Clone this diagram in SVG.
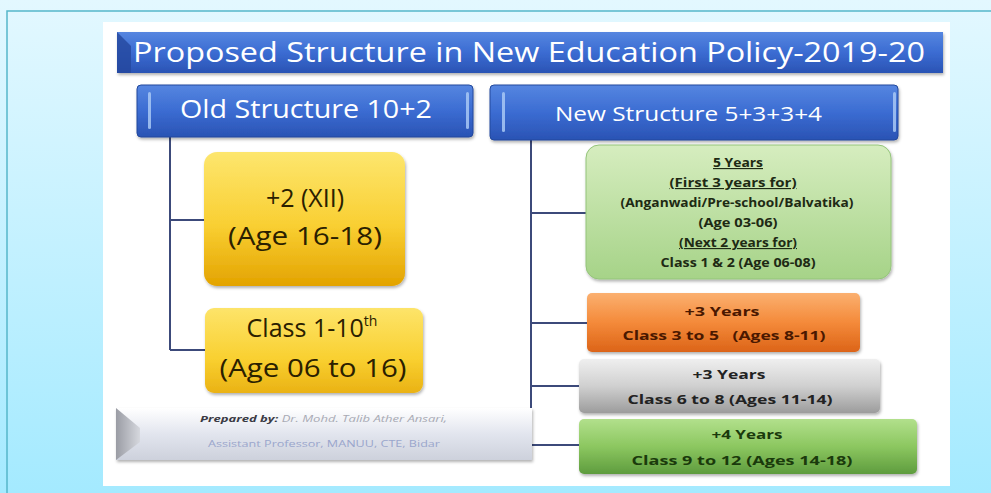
<svg xmlns="http://www.w3.org/2000/svg" width="991" height="493" viewBox="0 0 991 493">
<defs>
<linearGradient id="bg" x1="0" y1="0" x2="0" y2="1"><stop offset="0" stop-color="#e3f8ff"/><stop offset="1" stop-color="#a4eaff"/></linearGradient>
<linearGradient id="blue" x1="0" y1="0" x2="0" y2="1"><stop offset="0" stop-color="#5686e0"/><stop offset="0.5" stop-color="#3b6cd2"/><stop offset="1" stop-color="#2a53b4"/></linearGradient>
<linearGradient id="yel1" x1="0" y1="0" x2="0" y2="1"><stop offset="0" stop-color="#fde66e"/><stop offset="0.55" stop-color="#f9cf32"/><stop offset="1" stop-color="#e3a300"/></linearGradient>
<linearGradient id="yel2" x1="0" y1="0" x2="0" y2="1"><stop offset="0" stop-color="#fde46a"/><stop offset="0.6" stop-color="#f9d030"/><stop offset="1" stop-color="#eab214"/></linearGradient>
<linearGradient id="grn1" x1="0" y1="0" x2="0" y2="1"><stop offset="0" stop-color="#d6edbf"/><stop offset="1" stop-color="#a6d388"/></linearGradient>
<linearGradient id="org" x1="0" y1="0" x2="0" y2="1"><stop offset="0" stop-color="#fbb070"/><stop offset="0.5" stop-color="#f48a3a"/><stop offset="1" stop-color="#dc6418"/></linearGradient>
<linearGradient id="gry" x1="0" y1="0" x2="0" y2="1"><stop offset="0" stop-color="#efefef"/><stop offset="0.5" stop-color="#d0d0d0"/><stop offset="1" stop-color="#9c9c9c"/></linearGradient>
<linearGradient id="grn2" x1="0" y1="0" x2="0" y2="1"><stop offset="0" stop-color="#b2e08c"/><stop offset="0.5" stop-color="#8cc760"/><stop offset="1" stop-color="#5e9c3e"/></linearGradient>
<linearGradient id="foot" x1="0" y1="0" x2="0" y2="1"><stop offset="0" stop-color="#ffffff"/><stop offset="0.5" stop-color="#e2e5ee"/><stop offset="1" stop-color="#cdd1dc"/></linearGradient>
<linearGradient id="bevel" x1="0" y1="0" x2="1" y2="0"><stop offset="0" stop-color="#9a9ca4"/><stop offset="1" stop-color="#d6d8de"/></linearGradient>
<filter id="sh" x="-5%" y="-10%" width="112%" height="130%"><feDropShadow dx="1" dy="2" stdDeviation="1.6" flood-color="#000" flood-opacity="0.3"/></filter>
</defs>
<style>
.hdr{font-family:"Open Sans","Liberation Sans",sans-serif;fill:#ffffff;}
.yt{font-family:"Open Sans","Liberation Sans",sans-serif;fill:#2a2000;font-size:25px;text-anchor:middle;}
.bt{font-family:"Open Sans","Liberation Sans",sans-serif;font-weight:bold;text-anchor:middle;}
.con{stroke:#3c4a7a;stroke-width:2;fill:none;}
.hl{fill:#a8c8f4;opacity:0.85;}
</style>
<rect x="0" y="0" width="991" height="493" fill="url(#bg)"/>
<path d="M7,493 V11 H991" fill="none" stroke="#56b6ca" stroke-width="1.5"/>
<rect x="103" y="22" width="847" height="464" fill="#ffffff"/>

<g id="title">
<rect x="117" y="32" width="826" height="41" fill="url(#blue)" filter="url(#sh)"/>
<polygon points="117,32 131,46 131,73 117,73" fill="#24479e" opacity="0.8"/>
<text class="hdr" x="133" y="62" font-size="27" textLength="792" lengthAdjust="spacingAndGlyphs">Proposed Structure in New Education Policy-2019-20</text>
</g>

<g id="connectors">
<path class="con" d="M170,137 V350 M170,220 H205 M170,350 H206"/>
<path class="con" d="M531,140 V445 M531,213 H587 M531,323 H588 M531,386 H580 M531,445 H580"/>
</g>

<g id="old-header">
<rect x="137" y="85" width="336" height="52" rx="4" fill="url(#blue)" stroke="#23489c" stroke-width="1" filter="url(#sh)"/>
<rect class="hl" x="148" y="92" width="3" height="37" rx="1.5"/>
<rect class="hl" x="466" y="92" width="3" height="37" rx="1.5"/>
<text class="hdr" x="180" y="118" font-size="25" textLength="252" lengthAdjust="spacingAndGlyphs">Old Structure 10+2</text>
</g>

<g id="new-header">
<rect x="490" y="85" width="408" height="55" rx="4" fill="url(#blue)" stroke="#23489c" stroke-width="1" filter="url(#sh)"/>
<rect class="hl" x="502" y="92" width="3" height="40" rx="1.5"/>
<rect class="hl" x="893" y="92" width="3" height="40" rx="1.5"/>
<text class="hdr" x="555" y="121" font-size="20" textLength="267" lengthAdjust="spacingAndGlyphs">New Structure 5+3+3+4</text>
</g>

<g id="old-plus2">
<rect x="204" y="152" width="201" height="134" rx="13" fill="url(#yel1)" filter="url(#sh)"/>
<text class="yt" x="305" y="207">+2 (XII)</text>
<text class="yt" x="305" y="245" textLength="154" lengthAdjust="spacingAndGlyphs">(Age 16-18)</text>
</g>

<g id="old-class1-10">
<rect x="205" y="308" width="218" height="85" rx="9" fill="url(#yel2)" filter="url(#sh)"/>
<text class="yt" x="312" y="337">Class 1-10<tspan font-size="14" dy="-11">th</tspan></text>
<text class="yt" x="313" y="377" textLength="187" lengthAdjust="spacingAndGlyphs">(Age 06 to 16)</text>
</g>

<g id="footer">
<rect x="116" y="408" width="416" height="52" fill="url(#foot)" filter="url(#sh)"/>
<polygon points="116,408 140,428 140,442 116,460" fill="url(#bevel)"/>
<text x="200" y="422" font-family="'Open Sans','Liberation Sans',sans-serif" font-size="9.5" font-style="italic" textLength="247" lengthAdjust="spacingAndGlyphs"><tspan font-weight="bold" fill="#3a3a44">Prepared by:</tspan><tspan fill="#a8aab4"> Dr. Mohd. Talib Ather Ansari,</tspan></text>
<text x="208" y="447" font-family="'Open Sans','Liberation Sans',sans-serif" font-size="9.5" fill="#9aa6cc" textLength="232" lengthAdjust="spacingAndGlyphs">Assistant Professor, MANUU, CTE, Bidar</text>
</g>

<g id="new-5years">
<rect x="586" y="145" width="305" height="134" rx="13" fill="url(#grn1)" stroke="#94c47a" stroke-width="1" filter="url(#sh)"/>
<g class="bt" font-size="11.5" fill="#1e2a14">
<text x="738" y="167" text-decoration="underline" textLength="50" lengthAdjust="spacingAndGlyphs">5 Years</text>
<text x="733" y="187" text-decoration="underline" textLength="127" lengthAdjust="spacingAndGlyphs">(First 3 years for)</text>
<text x="737" y="207" textLength="233" lengthAdjust="spacingAndGlyphs">(Anganwadi/Pre-school/Balvatika)</text>
<text x="738" y="227" textLength="79" lengthAdjust="spacingAndGlyphs">(Age 03-06)</text>
<text x="738" y="247" text-decoration="underline" textLength="118" lengthAdjust="spacingAndGlyphs">(Next 2 years for)</text>
<text x="738" y="267" textLength="155" lengthAdjust="spacingAndGlyphs">Class 1 &amp; 2 (Age 06-08)</text>
</g>
</g>

<g id="new-3years-a">
<rect x="587" y="293" width="273" height="59" rx="5" fill="url(#org)" filter="url(#sh)"/>
<text class="bt" x="722" y="316" font-size="13" fill="#4a1800" textLength="75" lengthAdjust="spacingAndGlyphs">+3 Years</text>
<text class="bt" x="724" y="340" font-size="13" fill="#4a1800" textLength="203" lengthAdjust="spacingAndGlyphs" xml:space="preserve">Class 3 to 5   (Ages 8-11)</text>
</g>

<g id="new-3years-b">
<rect x="579" y="359" width="301" height="54" rx="5" fill="url(#gry)" filter="url(#sh)"/>
<text class="bt" x="729" y="379" font-size="13" fill="#222222" textLength="73" lengthAdjust="spacingAndGlyphs">+3 Years</text>
<text class="bt" x="730" y="404" font-size="13" fill="#222222" textLength="205" lengthAdjust="spacingAndGlyphs">Class 6 to 8 (Ages 11-14)</text>
</g>

<g id="new-4years">
<rect x="579" y="419" width="338" height="55" rx="5" fill="url(#grn2)" filter="url(#sh)"/>
<text class="bt" x="747" y="439" font-size="13" fill="#1a3a0c" textLength="71" lengthAdjust="spacingAndGlyphs">+4 Years</text>
<text class="bt" x="742" y="465" font-size="13" fill="#1a3a0c" textLength="221" lengthAdjust="spacingAndGlyphs">Class 9 to 12 (Ages 14-18)</text>
</g>
</svg>
